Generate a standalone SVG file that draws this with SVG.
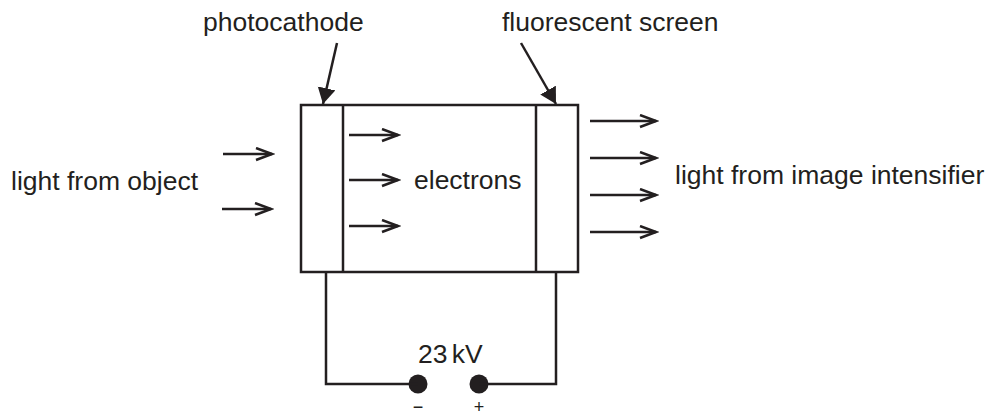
<svg xmlns="http://www.w3.org/2000/svg" width="990" height="417" viewBox="0 0 990 417">
<defs>
<style>
.t{font-family:"Liberation Sans",Arial,sans-serif;font-size:26.5px;fill:#231f20}
.s{font-family:"Liberation Sans",Arial,sans-serif;font-size:18px;fill:#231f20}
.ln{stroke:#231f20;stroke-width:2.5;fill:none}
.ar{stroke:#231f20;stroke-width:2.5;fill:none;marker-end:url(#chev)}
</style>
<marker id="chev" markerUnits="userSpaceOnUse" markerWidth="20" markerHeight="16" refX="17" refY="7" orient="auto">
<path d="M1,1 L17,7 L1,13" fill="none" stroke="#231f20" stroke-width="2.5"/>
</marker>
<marker id="tri" markerUnits="userSpaceOnUse" markerWidth="18" markerHeight="20" refX="16" refY="9" orient="auto">
<path d="M0,0 L16,9 L0,18 Z" fill="#231f20"/>
</marker>
</defs>
<rect width="990" height="417" fill="#ffffff"/>
<g id="tube">
<rect x="301" y="105" width="277" height="167" class="ln"/>
<line x1="343" y1="105" x2="343" y2="272" class="ln"/>
<line x1="536" y1="105" x2="536" y2="272" class="ln"/>
<text x="414" y="189" class="t">electrons</text>
</g>
<g id="photocathode-label">
<text x="203" y="31" class="t">photocathode</text>
</g>
<g id="screen-label">
<text x="502" y="31" class="t">fluorescent screen</text>
</g>
<g id="light-in">
<text x="11" y="190" class="t">light from object</text>
</g>
<g id="light-out">
<text x="675" y="184" class="t">light from image intensifier</text>
</g>
<g id="supply">
<circle cx="418" cy="384" r="9.5" fill="#231f20"/>
<circle cx="479" cy="384" r="9.5" fill="#231f20"/>
<text x="418" y="363" class="t" word-spacing="-3">23 kV</text>
<text x="418" y="413" class="s" text-anchor="middle">−</text>
<text x="479" y="413" class="s" text-anchor="middle">+</text>
</g>
<g id="connectors">
<line x1="337" y1="43" x2="323" y2="104" class="ln" marker-end="url(#tri)"/>
<line x1="521" y1="43" x2="556" y2="104" class="ln" marker-end="url(#tri)"/>
<line x1="223" y1="154" x2="272" y2="154" class="ar"/>
<line x1="222" y1="209" x2="271" y2="209" class="ar"/>
<line x1="349" y1="135" x2="398" y2="135" class="ar"/>
<line x1="349" y1="180" x2="398" y2="180" class="ar"/>
<line x1="349" y1="226" x2="398" y2="226" class="ar"/>
<line x1="590" y1="121" x2="656" y2="121" class="ar"/>
<line x1="590" y1="158" x2="656" y2="158" class="ar"/>
<line x1="590" y1="195" x2="656" y2="195" class="ar"/>
<line x1="590" y1="232" x2="656" y2="232" class="ar"/>
<polyline points="326,272 326,384 418,384" class="ln"/>
<polyline points="556,272 556,384 479,384" class="ln"/>
</g>
</svg>
